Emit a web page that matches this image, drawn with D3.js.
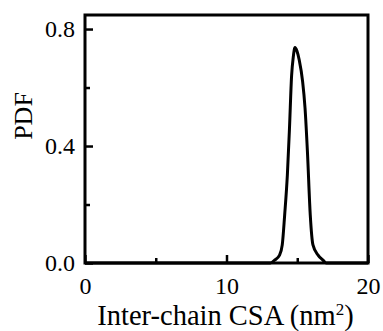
<!DOCTYPE html>
<html>
<head>
<meta charset="utf-8">
<script src="https://cdn.jsdelivr.net/npm/d3@7"></script>
<style>
  body { margin: 0; background: #fff; }
  svg text { font-family: "Liberation Serif", "Times New Roman", serif; fill: #000; }
</style>
</head>
<body>
<div id="chart"></div>
<script>
// inter-chain CSA (nm^2) vs PDF
var csa = [0, 13.1, 13.4, 13.75, 13.94, 14.11, 14.3, 14.45, 14.6, 14.72, 14.84, 14.98, 15.14, 15.38, 15.55, 15.72, 15.92, 16.11, 16.47, 16.82, 17.05, 20];
var pdf = [0, 0, 0.010, 0.027, 0.062, 0.164, 0.30, 0.46, 0.64, 0.705, 0.737, 0.725, 0.694, 0.62, 0.53, 0.38, 0.164, 0.062, 0.027, 0.010, 0, 0];

var xMajor = [0, 10, 20];
var xMinor = [5, 15];
var yMajor = [0, 0.4, 0.8];
var yMinor = [0.2, 0.6];

var W = 383, H = 331;
var margin = {top: 15, right: 15, bottom: 68, left: 85};

var svg = d3.select("#chart").append("svg")
  .attr("width", W)
  .attr("height", H);

var x = d3.scaleLinear().domain([0, 20]).range([margin.left, W - margin.right]);
var y = d3.scaleLinear().domain([0, 0.848]).range([H - margin.bottom, margin.top]);

var data = csa.map(function(d, i) { return {x: d, y: pdf[i]}; });

// curve
var line = d3.line()
  .x(function(d) { return x(d.x); })
  .y(function(d) { return y(d.y); })
  .curve(d3.curveMonotoneX);

svg.append("path")
  .datum(data)
  .attr("d", line)
  .attr("fill", "none")
  .attr("stroke", "#000")
  .attr("stroke-width", 3)
  .attr("stroke-linejoin", "round");

// axes, ticks inward
svg.append("g")
  .attr("transform", "translate(0," + y(0) + ")")
  .call(d3.axisBottom(x).tickValues(xMajor).tickSize(-8).tickPadding(14).tickFormat(d3.format("d")));
svg.append("g")
  .attr("transform", "translate(0," + y(0) + ")")
  .call(d3.axisBottom(x).tickValues(xMinor).tickSize(-5).tickFormat(""));

svg.append("g")
  .attr("transform", "translate(" + x(0) + ",0)")
  .call(d3.axisLeft(y).tickValues(yMajor).tickSize(-8).tickPadding(10).tickFormat(d3.format(".1f")));
svg.append("g")
  .attr("transform", "translate(" + x(0) + ",0)")
  .call(d3.axisLeft(y).tickValues(yMinor).tickSize(-5).tickFormat(""));

svg.selectAll(".domain").remove();
svg.selectAll(".tick line").attr("stroke", "#000").attr("stroke-width", 2.5);
svg.selectAll(".tick text").style("font-size", "24px").attr("fill", "#000");

// frame
svg.append("rect")
  .attr("x", x(0))
  .attr("y", margin.top)
  .attr("width", x(20) - x(0))
  .attr("height", y(0) - margin.top)
  .attr("fill", "none")
  .attr("stroke", "#000")
  .attr("stroke-width", 3);

// labels
svg.append("text")
  .attr("x", (x(0) + x(20)) / 2 - 1)
  .attr("y", 325)
  .attr("text-anchor", "middle")
  .style("font-size", "28.5px")
  .html("Inter-chain CSA (nm<tspan dy='-10' style='font-size:17px'>2</tspan><tspan dy='10'>)</tspan>");

svg.append("text")
  .attr("transform", "translate(32," + 116 + ") rotate(-90)")
  .attr("text-anchor", "middle")
  .style("font-size", "26px")
  .text("PDF");
</script>
</body>
</html>
